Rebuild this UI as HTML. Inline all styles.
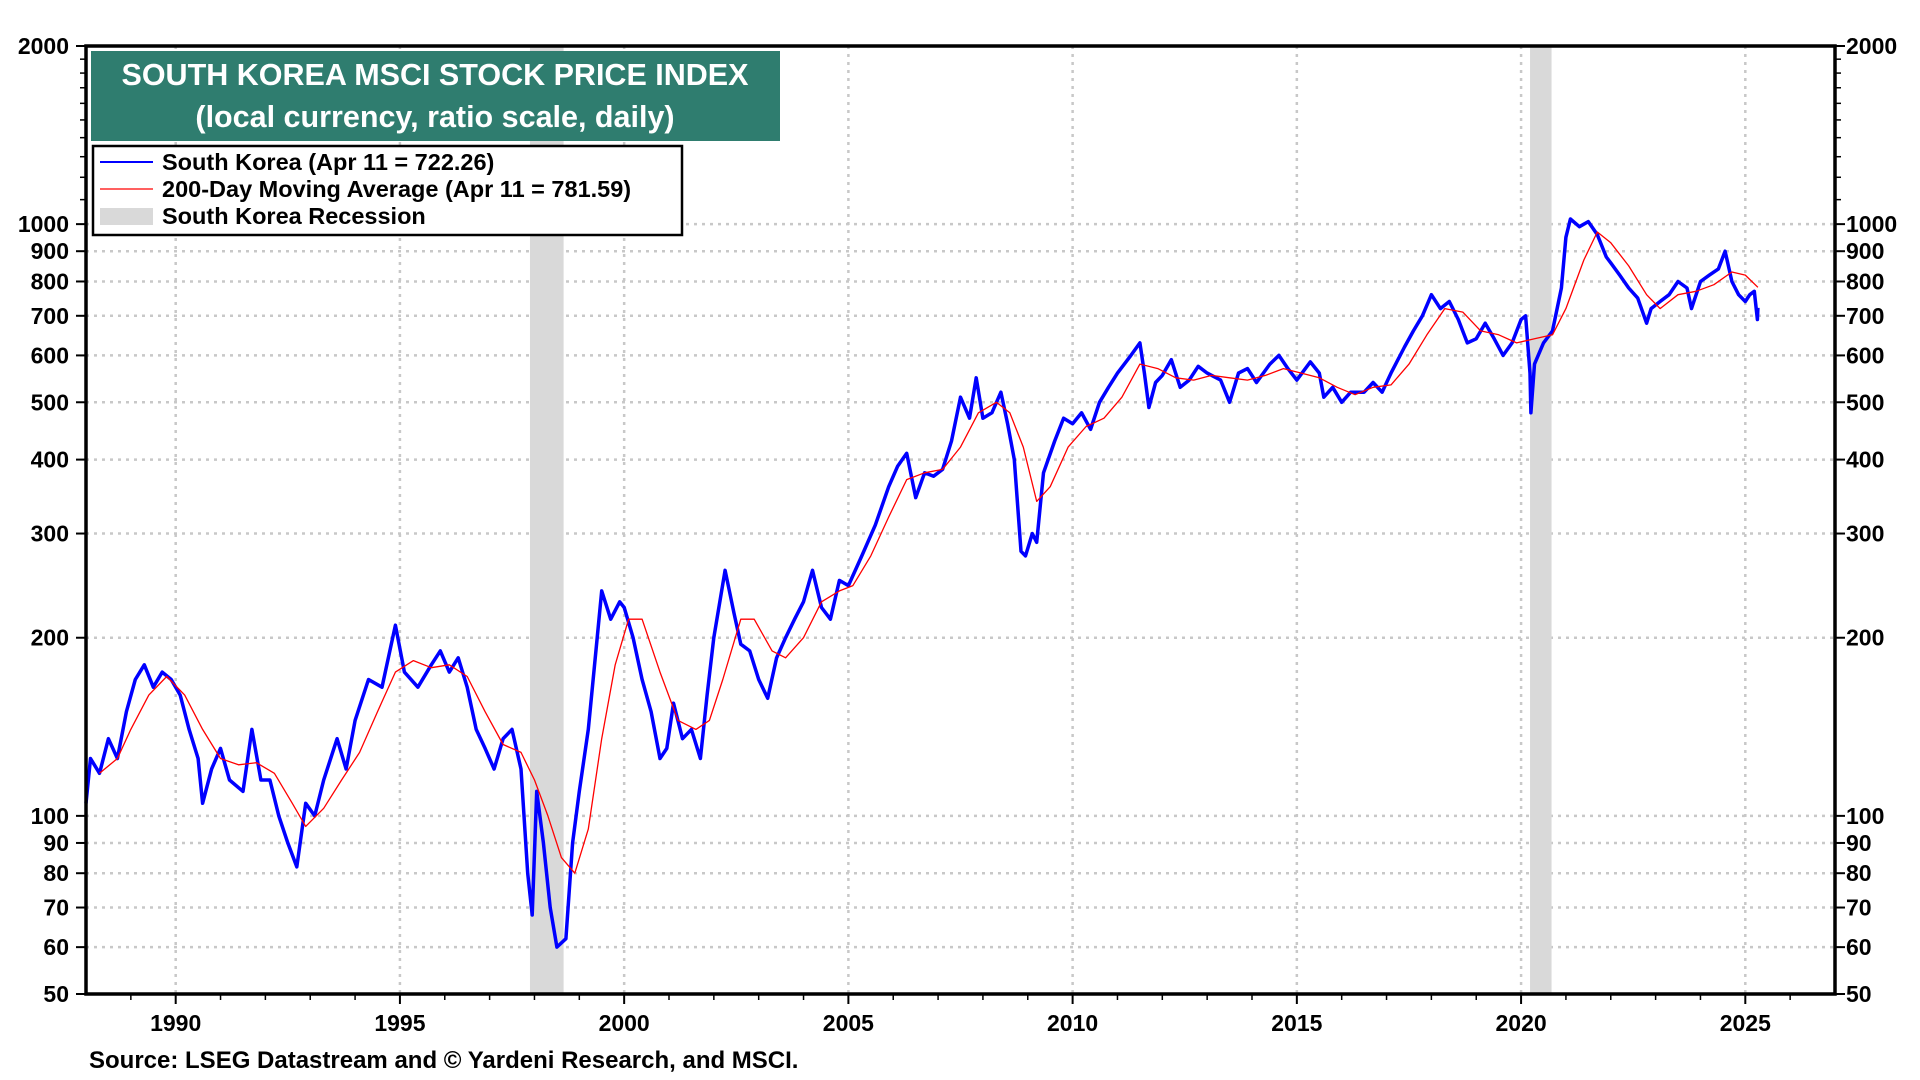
<!DOCTYPE html>
<html><head><meta charset="utf-8"><style>
html,body{margin:0;padding:0;background:#fff;width:1920px;height:1080px;overflow:hidden}
svg{display:block;font-family:"Liberation Sans",Arial,sans-serif}
</style></head><body>
<svg id="chart" width="1920" height="1080" viewBox="0 0 1920 1080" xmlns="http://www.w3.org/2000/svg">
<g id="grid"></g>
<g id="rec"></g>
<g id="series"></g>
<g id="axes"></g>
<rect x="86" y="46" width="1749" height="948" fill="none" stroke="#000" stroke-width="3.5"/>
<g>
<rect x="91" y="51" width="689" height="90" fill="#2f7d6f"/>
<text x="435" y="85" text-anchor="middle" fill="#fff" font-size="30.5" font-weight="bold">SOUTH KOREA MSCI STOCK PRICE INDEX</text>
<text x="435" y="127" text-anchor="middle" fill="#fff" font-size="30.5" font-weight="bold">(local currency, ratio scale, daily)</text>
</g>
<g>
<rect x="93" y="146" width="589" height="89" fill="#fff" stroke="#000" stroke-width="2.5"/>
<g><line x1="100" y1="162" x2="153" y2="162" stroke="#0000ff" stroke-width="2"/><text x="162" y="170" font-size="23.5" font-weight="bold">South Korea (Apr 11 = 722.26)</text></g>
<g><line x1="100" y1="189" x2="153" y2="189" stroke="#ff0000" stroke-width="1.2"/><text x="162" y="197" font-size="23.5" font-weight="bold">200-Day Moving Average (Apr 11 = 781.59)</text></g>
<g><rect x="100" y="208" width="53" height="17" fill="#d9d9d9"/><text x="162" y="224" font-size="23.5" font-weight="bold">South Korea Recession</text></g>
</g>
<text x="89" y="1068" font-size="24" font-weight="bold">Source: LSEG Datastream and © Yardeni Research, and MSCI.</text>
</svg>
<script>
const yLabels=[50,60,70,80,90,100,200,300,400,500,600,700,800,900,1000,2000];
const yearLabels=[1990,1995,2000,2005,2010,2015,2020,2025];
const recessions=[[1997.9,1998.65],[2020.2,2020.68]];
const skDates=[1988.0,1988.1,1988.3,1988.5,1988.7,1988.9,1989.1,1989.3,1989.5,1989.7,1989.9,1990.1,1990.3,1990.5,1990.6,1990.8,1991.0,1991.2,1991.5,1991.7,1991.9,1992.1,1992.3,1992.5,1992.7,1992.9,1993.1,1993.3,1993.6,1993.8,1994.0,1994.3,1994.6,1994.9,1995.1,1995.4,1995.7,1995.9,1996.1,1996.3,1996.5,1996.7,1996.9,1997.1,1997.3,1997.5,1997.7,1997.85,1997.95,1998.05,1998.2,1998.35,1998.5,1998.7,1998.85,1999.0,1999.2,1999.4,1999.5,1999.7,1999.9,2000.0,2000.2,2000.4,2000.6,2000.8,2000.95,2001.1,2001.3,2001.5,2001.7,2001.85,2002.0,2002.25,2002.45,2002.6,2002.8,2003.0,2003.2,2003.4,2003.6,2003.8,2004.0,2004.2,2004.4,2004.6,2004.8,2005.0,2005.3,2005.6,2005.9,2006.1,2006.3,2006.5,2006.7,2006.9,2007.1,2007.3,2007.5,2007.7,2007.85,2008.0,2008.2,2008.4,2008.55,2008.7,2008.85,2008.95,2009.1,2009.2,2009.35,2009.6,2009.8,2010.0,2010.2,2010.4,2010.6,2010.8,2011.0,2011.3,2011.5,2011.6,2011.7,2011.85,2012.0,2012.2,2012.4,2012.6,2012.8,2013.0,2013.3,2013.5,2013.7,2013.9,2014.1,2014.4,2014.6,2014.8,2015.0,2015.3,2015.5,2015.6,2015.8,2016.0,2016.2,2016.5,2016.7,2016.9,2017.1,2017.4,2017.6,2017.8,2018.0,2018.2,2018.4,2018.6,2018.8,2019.0,2019.2,2019.4,2019.6,2019.8,2020.0,2020.1,2020.2,2020.22,2020.3,2020.5,2020.7,2020.9,2021.0,2021.1,2021.3,2021.5,2021.7,2021.9,2022.0,2022.2,2022.4,2022.6,2022.8,2022.9,2023.1,2023.3,2023.5,2023.7,2023.8,2024.0,2024.2,2024.4,2024.55,2024.7,2024.85,2025.0,2025.1,2025.2,2025.27,2025.28];
const skValues=[105,125,118,135,125,150,170,180,165,175,170,160,140,125,105,120,130,115,110,140,115,115,100,90,82,105,100,115,135,120,145,170,165,210,175,165,180,190,175,185,165,140,130,120,135,140,120,80,68,110,90,70,60,62,90,110,140,200,240,215,230,225,200,170,150,125,130,155,135,140,125,160,200,260,220,195,190,170,158,185,200,215,230,260,225,215,250,245,275,310,360,390,410,345,380,375,385,430,510,470,550,470,480,520,460,400,280,275,300,290,380,430,470,460,480,450,500,530,560,600,630,560,490,540,555,590,530,545,575,560,545,500,560,570,540,580,600,570,545,585,560,510,530,500,520,520,540,520,560,620,660,700,760,720,740,690,630,640,680,640,600,630,690,700,560,480,580,630,660,780,950,1020,990,1010,960,880,860,820,780,750,680,720,740,760,800,780,720,800,820,840,900,800,760,740,760,770,690,722];
const maDates=[1988.3,1988.7,1989.0,1989.4,1989.8,1990.2,1990.6,1991.0,1991.4,1991.8,1992.2,1992.6,1992.9,1993.3,1993.7,1994.1,1994.5,1994.9,1995.3,1995.7,1996.1,1996.5,1996.9,1997.3,1997.7,1998.0,1998.3,1998.6,1998.9,1999.2,1999.5,1999.8,2000.1,2000.4,2000.8,2001.2,2001.6,2001.9,2002.2,2002.6,2002.9,2003.3,2003.6,2004.0,2004.4,2004.8,2005.1,2005.5,2005.9,2006.3,2006.7,2007.1,2007.5,2007.9,2008.3,2008.6,2008.9,2009.2,2009.5,2009.9,2010.3,2010.7,2011.1,2011.5,2011.9,2012.3,2012.7,2013.1,2013.5,2013.9,2014.3,2014.7,2015.1,2015.5,2015.9,2016.3,2016.7,2017.1,2017.5,2017.9,2018.3,2018.7,2019.1,2019.5,2019.9,2020.3,2020.7,2021.0,2021.4,2021.7,2022.0,2022.4,2022.8,2023.1,2023.5,2023.9,2024.3,2024.7,2025.0,2025.28];
const maValues=[118,125,140,160,172,160,140,125,122,123,118,105,96,103,115,128,150,175,183,178,180,172,150,132,128,115,100,85,80,95,135,180,215,215,175,145,140,145,170,215,215,190,185,200,230,240,245,275,320,370,380,385,420,480,500,480,420,340,360,420,455,470,510,580,570,550,545,555,550,545,555,570,560,550,530,515,530,535,580,650,720,710,660,650,630,640,650,720,870,970,930,850,760,720,760,770,790,830,820,782];

const L=86,R=1835,T=46,B=994,X0=1988.0,X1=2027.0,YMIN=50,YMAX=2000;
const NS='http://www.w3.org/2000/svg';
function xs(t){return L+(t-X0)/(X1-X0)*(R-L);}
function ys(v){return T+(B-T)*Math.log(YMAX/v)/Math.log(YMAX/YMIN);}
function mk(tag,attrs,parent){const e=document.createElementNS(NS,tag);for(const k in attrs)e.setAttribute(k,attrs[k]);parent.appendChild(e);return e;}
const grid=document.getElementById('grid'),axes=document.getElementById('axes'),rec=document.getElementById('rec'),ser=document.getElementById('series');
yLabels.forEach(v=>{const y=ys(v);
 if(v!==50&&v!==2000){const g=mk('line',{x1:L,x2:R,y1:y,y2:y,stroke:'#c8c8c8','stroke-width':2.5,'stroke-dasharray':'3 5'},grid);
 
 }
 [[L-10,L],[R,R+10]].forEach(p=>{mk('line',{x1:p[0],x2:p[1],y1:y,y2:y,stroke:'#000','stroke-width':2},axes);});
 const t1=mk('text',{x:69,y:y+8,'text-anchor':'end','font-size':23,'font-weight':'bold'},axes);t1.textContent=v;
 
 
 const t2=mk('text',{x:1846,y:y+8,'text-anchor':'start','font-size':23,'font-weight':'bold'},axes);t2.textContent=v;
 
 
});
[[50,100,10],[100,1000,100],[1000,2000,100]].forEach(([a,b,s])=>{for(let v=a+s;v<b;v+=s){const y=ys(v);
 mk('line',{x1:L-6,x2:L,y1:y,y2:y,stroke:'#000','stroke-width':1.5},axes);
 mk('line',{x1:R,x2:R+6,y1:y,y2:y,stroke:'#000','stroke-width':1.5},axes);}});
yearLabels.forEach(yr=>{const x=xs(yr);
 const g=mk('line',{x1:x,x2:x,y1:T,y2:B,stroke:'#c8c8c8','stroke-width':2.5,'stroke-dasharray':'3 5'},grid);
 
 
 mk('line',{x1:x,x2:x,y1:B,y2:B+10,stroke:'#000','stroke-width':2},axes);
 const t=mk('text',{x:x,y:B+37,'text-anchor':'middle','font-size':23,'font-weight':'bold'},axes);t.textContent=yr;
 
 
});
for(let yr=1989;yr<=2026;yr++){if(yr%5)mk('line',{x1:xs(yr),x2:xs(yr),y1:B,y2:B+6,stroke:'#000','stroke-width':1.5},axes);}
recessions.forEach(r=>{const e=mk('rect',{x:xs(r[0]),y:T,width:xs(r[1])-xs(r[0]),height:B-T,fill:'#d9d9d9'},rec);
 
 });
function path(d,v){return d.map((t,i)=>(i?'L':'M')+xs(t).toFixed(1)+' '+ys(v[i]).toFixed(1)).join(' ');}
const p1=mk('path',{d:path(skDates,skValues),fill:'none',stroke:'#0000ff','stroke-width':3.5,'stroke-linejoin':'round'},ser);


const p2=mk('path',{d:path(maDates,maValues),fill:'none',stroke:'#ff0000','stroke-width':1.3,'stroke-linejoin':'round'},ser);


</script>
</body></html>
